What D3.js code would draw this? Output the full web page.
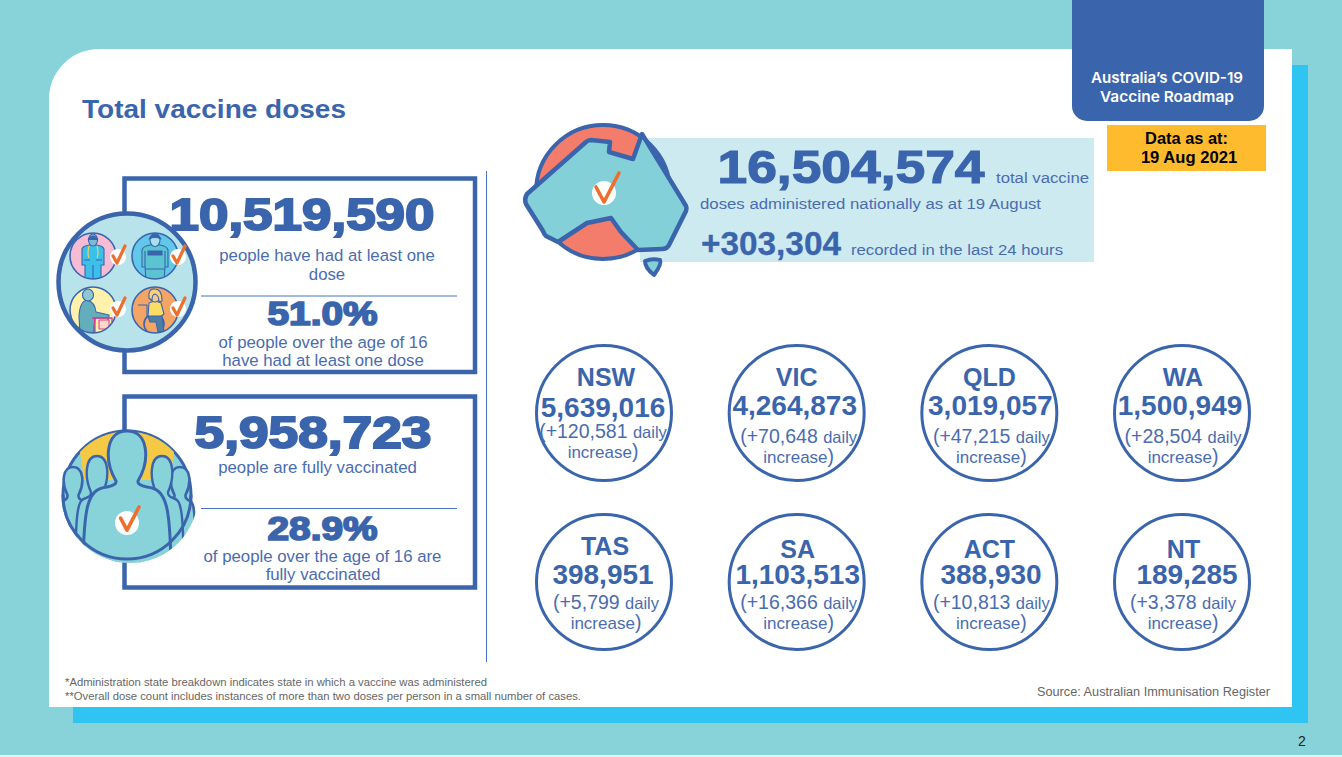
<!DOCTYPE html>
<html><head><meta charset="utf-8">
<script src="https://cdn.jsdelivr.net/npm/d3@7/dist/d3.min.js"></script>
<style>html,body{margin:0;padding:0;background:#88d3da;overflow:hidden}svg{display:block}text{font-family:"Liberation Sans",Arial,sans-serif}</style>
</head><body><svg id="c" width="1342" height="757"></svg>
<script>
// ---------- data ----------
const stateNames = ["NSW","VIC","QLD","WA","TAS","SA","ACT","NT"];
const stateDoses = [5639016,4264873,3019057,1500949,398951,1103513,388930,189285];
const stateDaily = [120581,70648,47215,28504,5799,16366,10813,3378];
const totalDoses = 16504574, last24h = 303304;
const firstDose = 10519590, fullDose = 5958723;
const firstPct = 51.0, fullPct = 28.9;

// ---------- layout (kept apart from the data) ----------
const colIndex = [0,1,2,3,0,1,2,3], rowIndex = [0,0,0,0,1,1,1,1];
const nameDy  = [-27,-27,-27,-27,-27,-24,-24,-24];
const valueDy = [4,2,2,2,2,2,2,2];
const incDy   = [25,29.5,29.5,29.5,27,27,27,27];
const nameDx  = [2,0,0,1,1,1,0,1.5];
const valueDx = [-1,-2,1,-2,-1,1,1.7,5];
const incDx   = [-1,2,2,1,2,2,2,1];

const BLUE="#3a65ad", TEXT="#4a6cb0", ORANGE="#ee6f2d", TEAL="#88d3da";
const svg=d3.select("#c");
const fmt=d3.format(","), fmtPlus=d3.format("+,");
const x=d3.scalePoint().domain([0,1,2,3]).range([604,1182]);
const y=d3.scalePoint().domain([0,1]).range([413,582]);

function T(g,s,px,py,size,o={}){
  const t=g.append("text").attr("x",px).attr("y",py).attr("font-size",size)
    .attr("fill",o.fill||TEXT).attr("text-anchor",o.anchor||"middle").text(s);
  if(o.bold)t.attr("font-weight","700");
  if(o.family)t.style("font-family",o.family);
  if(o.weight)t.attr("font-weight",o.weight);
  if(o.stroke)t.attr("stroke",o.fill||BLUE).attr("stroke-width",o.stroke);
  if(o.len)t.attr("textLength",o.len).attr("lengthAdjust","spacingAndGlyphs");
  return t;
}
function check(g,cx,cy,r,k){
  g.append("circle").attr("cx",cx).attr("cy",cy).attr("r",r).attr("fill","#fff");
  g.append("path").attr("d",`M${cx-k*8} ${cy-k*6}L${cx} ${cy+k*9}L${cx+k*15} ${cy-k*20}`)
    .attr("fill","none").attr("stroke",ORANGE).attr("stroke-width",3.6).attr("stroke-linecap","round").attr("stroke-linejoin","round");
}

// ---------- page ----------
const defs=svg.append("defs");
svg.append("rect").attr("width",1342).attr("height",755).attr("fill",TEAL);
svg.append("rect").attr("y",755).attr("width",1342).attr("height",2).attr("fill","#e8f0f0");
svg.append("rect").attr("x",73).attr("y",65).attr("width",1235).attr("height",658).attr("fill","#2fc4f2");
svg.append("path").attr("d","M99 49H1292V707H49V99A50 50 0 0 1 99 49Z").attr("fill","#fff");
svg.append("path").attr("d","M1072 0H1264V106A15 15 0 0 1 1249 121H1087A15 15 0 0 1 1072 106Z").attr("fill",BLUE);
T(svg,"Australia’s COVID-19",1167,83,15,{fill:"#fff",family:"Inter",weight:600,len:152});
T(svg,"Vaccine Roadmap",1167,102,15,{fill:"#fff",family:"Inter",weight:600,len:134});
svg.append("rect").attr("x",1107).attr("y",125).attr("width",159).attr("height",46).attr("fill","#fdbb2d");
T(svg,"Data as at:",1186.5,144,16.4,{fill:"#000",bold:true});
T(svg,"19 Aug 2021",1189,163,16.6,{fill:"#000",bold:true});
T(svg,"Total vaccine doses",82,118,26,{fill:BLUE,bold:true,anchor:"start",len:264});

// ---------- left boxes ----------
const box=(y0,h)=>svg.append("rect").attr("x",124.5).attr("y",y0).attr("width",350.5).attr("height",h)
  .attr("fill","#fff").attr("stroke",BLUE).attr("stroke-width",4.5);
box(178.5,193.5); box(396.5,191);
svg.append("line").attr("x1",486.5).attr("x2",486.5).attr("y1",171).attr("y2",662).attr("stroke","#4472c4").attr("stroke-width",1);

const L=svg.append("g");
T(L,fmt(firstDose),302,229.5,45,{bold:true,fill:BLUE,stroke:2,len:265});
T(L,"people have had at least one",327,261,16.8);
T(L,"dose",327,280,16.8);
L.append("line").attr("x1",201).attr("x2",457).attr("y1",296).attr("y2",296).attr("stroke","#4472c4").attr("stroke-width",1);
T(L,firstPct.toFixed(1)+"%",322.5,325,33,{bold:true,fill:BLUE,stroke:1.7,len:110});
T(L,"of people over the age of 16",323,348,16.8);
T(L,"have had at least one dose",323,366,16.8);
T(L,fmt(fullDose),313,447.5,45,{bold:true,fill:BLUE,stroke:2,len:237});
T(L,"people are fully vaccinated",317.5,473,16.8);
L.append("line").attr("x1",201).attr("x2",457).attr("y1",508.5).attr("y2",508.5).attr("stroke","#4472c4").attr("stroke-width",1);
T(L,fullPct.toFixed(1)+"%",322.5,540,33,{bold:true,fill:BLUE,stroke:1.7,len:110});
T(L,"of people over the age of 16 are",322.5,562,16.8);
T(L,"fully vaccinated",323,580,16.8);

// ---------- four-person icon ----------
const I=svg.append("g");
I.append("circle").attr("cx",127).attr("cy",282).attr("r",68.5).attr("fill","#b9e3ea").attr("stroke",BLUE).attr("stroke-width",4.5);
const cells=[[93,256,"#f6bcd4"],[155,256,"#62c8ea"],[93,310,"#fdf1ab"],[155,310,"#f4a465"]];
cells.forEach((c,i)=>{
  const id="cl"+i;
  defs.append("clipPath").attr("id",id).append("circle").attr("cx",c[0]).attr("cy",c[1]).attr("r",23);
  I.append("circle").attr("cx",c[0]).attr("cy",c[1]).attr("r",23).attr("fill",c[2]);
  const g=I.append("g").attr("clip-path",`url(#${id})`)
    .attr("stroke",BLUE).attr("stroke-width",1.1).attr("stroke-linejoin","round");
  const p=(d,f)=>g.append("path").attr("d",d).attr("fill",f||"none");
  const X=c[0],Y=c[1];
  if(i===0){
    p(`M${X-11} ${Y+9}L${X-11} ${Y-7}Q${X-10} ${Y-10} ${X-4} ${Y-11}H${X+4}Q${X+10} ${Y-10} ${X+11} ${Y-7}L${X+11} ${Y+9}H${X+8}L${X+8} ${Y+25}H${X-8}L${X-8} ${Y+9}Z`,"#3cbfe8");
    g.append("ellipse").attr("cx",X).attr("cy",Y-16).attr("rx",4.5).attr("ry",6).attr("fill","#7fb9d8");
    p(`M${X-5} ${Y-16}Q${X} ${Y-24} ${X+5} ${Y-16}`,"#3a65ad");
    p(`M${X-4} ${Y-10}Q${X-6} ${Y-2} ${X-4} ${Y+2}M${X+4} ${Y-10}Q${X+6} ${Y-2} ${X+4} ${Y+2}`).attr("stroke","#f4d64a");
    p(`M${X} ${Y+9}V${Y+25}M${X-9} ${Y+4}H${X-3}M${X+3} ${Y+4}H${X+9}`);
  } else if(i===1){
    p(`M${X-13} ${Y+11}L${X-13} ${Y-6}Q${X-12} ${Y-10} ${X-5} ${Y-11}H${X+5}Q${X+12} ${Y-10} ${X+13} ${Y-6}L${X+13} ${Y+11}H${X+10}L${X+9} ${Y+25}H${X-9}L${X-10} ${Y+11}Z`,"#5cc4d0");
    g.append("ellipse").attr("cx",X).attr("cy",Y-16).attr("rx",5).attr("ry",6.5).attr("fill","#a9dfee");
    p(`M${X-6} ${Y-17}Q${X} ${Y-27} ${X+6} ${Y-17}Q${X} ${Y-20} ${X-6} ${Y-17}Z`,"#3a65ad");
    g.append("rect").attr("x",X-7).attr("y",Y-5).attr("width",14).attr("height",4).attr("fill","#3a65ad");
    p(`M${X-10} ${Y+13}H${X+10}M${X-10} ${Y-5}V${Y+11}M${X+10} ${Y-5}V${Y+11}`);
  } else if(i===2){
    p(`M${X-14} ${Y+6}Q${X-13} ${Y-9} ${X-6} ${Y-10}Q${X+2} ${Y-8} ${X+3} ${Y+2}L${X+16} ${Y+5}V${Y+8}H${X+2}V${Y+25}H${X-13}Z`,"#63aebd");
    g.append("ellipse").attr("cx",X-5).attr("cy",Y-15).attr("rx",5.5).attr("ry",6).attr("fill","#8cc7d2");
    g.append("path").attr("d",`M${X-1} ${Y+8}H${X+19}V${Y+12}M${X+2} ${Y+8}L${X} ${Y+25}M${X+15} ${Y+8}V${Y+25}`).attr("fill","none").attr("stroke","#d63b8f").attr("stroke-width",1.4);
    g.append("rect").attr("x",X+6).attr("y",Y+10).attr("width",10).attr("height",9).attr("fill","#fbd9c6").attr("stroke","#d63b8f").attr("stroke-width",1);
  } else {
    g.append("circle").attr("cx",X-1).attr("cy",Y+14).attr("r",10).attr("fill","none").attr("stroke",BLUE).attr("stroke-width",1.6);
    p(`M${X-6} ${Y-7}Q${X} ${Y-10} ${X+6} ${Y-7}L${X+9} ${Y+4}L${X+5} ${Y+7}H${X-7}Z`,"#fbdc66");
    p(`M${X-7} ${Y+6}H${X+7}L${X+9} ${Y+22}H${X+3}L${X+1} ${Y+12}H${X-5}Z`,"#4d7ea8");
    g.append("ellipse").attr("cx",X).attr("cy",Y-14).attr("rx",5).attr("ry",6).attr("fill","#f7c592");
    p(`M${X-6} ${Y-12}Q${X-7} ${Y-22} ${X} ${Y-21}Q${X+7} ${Y-21} ${X+7} ${Y-9}L${X+4} ${Y-8}Q${X+4} ${Y-15} ${X} ${Y-16}Q${X-3} ${Y-16} ${X-3} ${Y-9}Z`,"#f8d27a");
    p(`M${X-17} ${Y-5}H${X-8}V${Y+8}`);
  }
  I.append("circle").attr("cx",c[0]).attr("cy",c[1]).attr("r",23).attr("fill","none").attr("stroke",BLUE).attr("stroke-width",1.6);
});
[[118,257],[178,257],[118,309],[178,309]].forEach(c=>{
  I.append("circle").attr("cx",c[0]).attr("cy",c[1]).attr("r",8).attr("fill","#fff");
  I.append("path").attr("d",`M${c[0]-5} ${c[1]-1}L${c[0]-1} ${c[1]+6}L${c[0]+7} ${c[1]-11}`).attr("fill","none").attr("stroke",ORANGE).attr("stroke-width",3.2).attr("stroke-linecap","round").attr("stroke-linejoin","round");
});

// ---------- crowd icon ----------
const G=svg.append("g").attr("stroke",BLUE).attr("stroke-linejoin","round");
G.append("circle").attr("cx",127).attr("cy",495).attr("r",64).attr("fill",TEAL).attr("stroke-width",3);
defs.append("clipPath").attr("id","crowd").append("path").attr("d","M56 425H198V495A65 65 0 0 1 62 495H56Z");
G.append("path").attr("d","M80 452A64 64 0 0 1 174 452L170 480H84Z").attr("fill","#f6c945").attr("stroke","none");
const Gc=G.append("g").attr("clip-path","url(#crowd)");
const fig=(cx,top,headHalf,headH,shoulder,sw)=>{
  const nk=top+headH, sh=nk+shoulder*.4;
  Gc.append("path").attr("d",`M${cx} ${top}C${cx+headHalf*1.1} ${top} ${cx+headHalf*1.15} ${top+headH*.6} ${cx+headHalf*.55} ${nk}Q${cx+headHalf*.5} ${nk+4} ${cx+headHalf} ${nk+6}C${cx+shoulder*.9} ${nk+8} ${cx+shoulder} ${sh+6} ${cx+shoulder} ${top+150}H${cx-shoulder}C${cx-shoulder} ${sh+6} ${cx-shoulder*.9} ${nk+8} ${cx-headHalf} ${nk+6}Q${cx-headHalf*.5} ${nk+4} ${cx-headHalf*.55} ${nk}C${cx-headHalf*1.15} ${top+headH*.6} ${cx-headHalf*1.1} ${top} ${cx} ${top}Z`)
    .attr("fill",TEAL).attr("stroke-width",sw);
};
fig(73,467,10,28,16,2.6); fig(180,467,10,28,16,2.6);
fig(97,456,11,36,22,2.4); fig(162,456,11,36,22,2.4);
fig(127,431,20,50,44,3);
G.append("path").attr("d","M63 495A64 64 0 0 0 191 495").attr("fill","none").attr("stroke-width",3);
check(svg,127,523,12,.8);

// ---------- national panel ----------
svg.append("rect").attr("x",640).attr("y",138).attr("width",454).attr("height",124).attr("fill","#cdeaf1");
svg.append("circle").attr("cx",603).attr("cy",192).attr("r",67).attr("fill","#f47c6a").attr("stroke",BLUE).attr("stroke-width",4);
const ausPts="M527 194L586 142Q588 140 591 140L610 142L609 152L633 159L642 134L686 206Q687 208 686 211L669 245Q667 249 662 249L638 250L621 232L611 218L587 223L558 242L546 236Q544 234 543 231L526 204Q524 199 527 194Z";
svg.append("path").attr("d",ausPts).attr("fill","#84d0d8").attr("stroke",BLUE).attr("stroke-width",4.5).attr("stroke-linejoin","round");
svg.append("path").attr("d","M645 261Q652 258 660 260Q662 264 654 275Q645 268 645 261Z").attr("fill","#84d0d8").attr("stroke",BLUE).attr("stroke-width",4).attr("stroke-linejoin","round");
check(svg,604,193,12,1);
T(svg,fmt(totalDoses),851,183,46,{bold:true,fill:BLUE,stroke:1.2,len:267});
T(svg,"total vaccine",996,183,15.5,{anchor:"start",len:93});
T(svg,"doses administered nationally as at 19 August",700,209,15.5,{anchor:"start",len:341});
T(svg,fmtPlus(last24h),771,255,33,{bold:true,fill:BLUE,stroke:.3,len:140});
T(svg,"recorded in the last 24 hours",851,255,15.5,{anchor:"start",len:212});

// ---------- state circles ----------
const states=stateNames.map((n,i)=>({n,i,d:stateDoses[i],inc:stateDaily[i]}));
const sg=svg.selectAll("g.st").data(states).join("g").attr("class","st")
  .attr("transform",d=>`translate(${x(colIndex[d.i])},${y(rowIndex[d.i])})`);
sg.append("circle").attr("r",67.5).attr("fill","#fff").attr("stroke",BLUE).attr("stroke-width",3);
sg.append("text").attr("x",d=>nameDx[d.i]).attr("y",d=>nameDy[d.i]).attr("text-anchor","middle").attr("font-size",25).attr("font-weight",700).attr("fill",BLUE).text(d=>d.n);
sg.append("text").attr("x",d=>valueDx[d.i]).attr("y",d=>valueDy[d.i]).attr("text-anchor","middle").attr("font-size",28).attr("font-weight",700).attr("fill",BLUE).text(d=>fmt(d.d));
const l1=sg.append("text").attr("x",d=>incDx[d.i]).attr("y",d=>incDy[d.i]).attr("text-anchor","middle").attr("fill",TEXT);
l1.append("tspan").attr("font-size",19.5).text(d=>"("+fmtPlus(d.inc)+" ");
l1.append("tspan").attr("font-size",16.5).text("daily");
const l2=sg.append("text").attr("x",d=>incDx[d.i]).attr("y",d=>incDy[d.i]+20).attr("text-anchor","middle").attr("fill",TEXT);
l2.append("tspan").attr("font-size",17).text("increase");
l2.append("tspan").attr("font-size",19.5).text(")");

// ---------- footer ----------
T(svg,"*Administration state breakdown indicates state in which a vaccine was administered",65,686,10.5,{anchor:"start",fill:"#666",len:422});
T(svg,"**Overall dose count includes instances of more than two doses per person in a small number of cases.",65,699.5,10.5,{anchor:"start",fill:"#666",len:516});
T(svg,"Source: Australian Immunisation Register",1037,696,12.3,{anchor:"start",fill:"#666",len:233});
T(svg,"2",1302,746,14,{fill:"#222"});
</script></body></html>
